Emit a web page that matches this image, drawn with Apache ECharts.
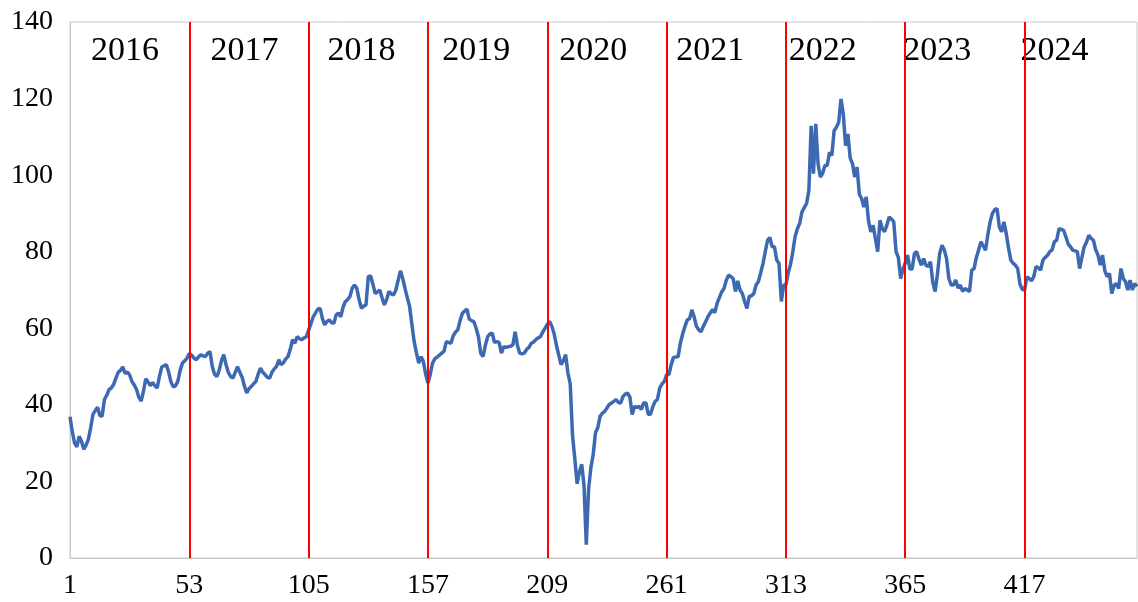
<!DOCTYPE html>
<html>
<head>
<meta charset="utf-8">
<script src="https://cdn.jsdelivr.net/npm/echarts@6/dist/echarts.min.js"></script>
<style>
  html, body { margin: 0; padding: 0; background: #fff; }
  #chart { width: 1138px; height: 602px; }
</style>
</head>
<body>
<div id="chart"></div>
<script>
// weekly values, one array per year (52 weeks each, 2024 partial)
const y2016 = [36.9, 33.0, 30.0, 29.0, 31.8, 30.5, 28.4, 29.5, 31.0, 34.0, 37.5, 38.5, 39.4, 37.2, 37.0, 41.4,
  42.5, 44.0, 44.4, 45.3, 47.0, 48.5, 49.0, 49.9, 48.2, 48.6, 47.8, 46.1, 45.2, 44.0, 42.0, 41.0,
  43.5, 46.8, 46.0, 45.0, 45.8, 45.0, 44.4, 47.5, 49.9, 50.2, 50.5, 48.5, 46.0, 44.7, 45.0, 46.2,
  49.0, 50.9, 51.5, 52.2];
const y2017 = [53.4, 53.0, 52.2, 51.8, 52.5, 53.1, 52.8, 52.6, 53.5, 53.9, 50.0, 48.0, 47.4, 49.0, 51.5, 53.1,
  50.5, 48.5, 47.4, 47.0, 48.5, 50.0, 48.5, 47.2, 45.0, 43.1, 44.2, 44.8, 45.5, 46.1, 48.0, 49.6,
  48.5, 47.9, 47.2, 47.0, 48.5, 49.4, 50.0, 51.8, 50.5, 51.0, 52.0, 52.6, 54.5, 57.0, 56.1, 57.8,
  57.3, 57.0, 57.5, 57.8];
const y2018 = [59.5, 61.2, 63.0, 64.0, 65.0, 65.2, 62.5, 60.9, 61.8, 62.2, 61.5, 61.3, 63.5, 64.0, 63.0, 65.5,
  67.0, 67.5, 68.3, 70.5, 71.3, 70.4, 67.5, 65.2, 65.8, 66.1, 73.5, 73.7, 71.5, 69.1, 69.5, 70.0,
  68.0, 66.1, 67.5, 69.6, 69.0, 68.7, 70.0, 72.5, 75.0, 73.0, 70.4, 68.0, 65.7, 61.0, 56.5, 53.5,
  50.9, 52.6, 51.3, 48.0];
const y2019 = [45.7, 48.0, 50.9, 52.0, 52.5, 53.0, 53.5, 54.0, 56.5, 56.3, 56.1, 58.0, 59.0, 59.6, 62.0, 63.9,
  64.5, 65.0, 62.4, 62.0, 61.7, 60.0, 57.8, 53.5, 52.6, 55.5, 57.8, 58.5, 58.7, 56.3, 56.5, 56.3,
  53.5, 55.2, 55.0, 55.2, 55.3, 55.7, 59.1, 55.5, 53.5, 53.3, 53.5, 54.5, 55.0, 56.1, 56.4, 57.0,
  57.5, 57.8, 59.0, 60.0];
const y2020 = [61.0, 61.8, 60.5, 58.5, 55.5, 53.0, 50.5, 51.5, 53.1, 48.3, 45.5, 32.0, 25.9, 19.4, 22.4, 24.5,
  19.0, 3.5, 18.0, 23.6, 27.0, 32.7, 34.0, 37.0, 37.8, 38.3, 39.2, 40.1, 40.5, 40.9, 41.4, 40.6,
  40.5, 42.2, 42.8, 43.1, 42.0, 37.5, 39.6, 39.3, 39.6, 38.8, 40.5, 40.5, 37.5, 37.6, 39.5, 40.9,
  41.4, 44.4, 45.5, 46.1];
const y2021 = [47.9, 47.9, 50.5, 52.4, 52.5, 52.6, 56.1, 58.5, 60.5, 62.2, 62.5, 64.8, 63.0, 60.5, 59.6, 59.1,
  60.5, 61.7, 63.0, 64.0, 64.9, 64.1, 66.5, 68.0, 69.5, 70.4, 72.5, 73.9, 73.5, 73.0, 69.6, 72.4,
  70.0, 69.1, 67.0, 65.2, 68.3, 68.5, 69.1, 71.3, 72.2, 74.5, 76.9, 80.0, 83.0, 83.7, 81.3, 81.3,
  77.8, 76.9, 67.0, 71.3];
const y2022 = [71.3, 74.5, 76.7, 80.0, 84.0, 86.0, 87.4, 90.4, 91.5, 92.6, 96.0, 112.9, 100.4, 113.4, 103.0, 99.5,
  100.5, 102.5, 102.5, 106.0, 105.1, 111.6, 112.5, 113.8, 119.9, 116.0, 107.7, 110.8, 104.5, 103.0, 99.5, 102.1,
  95.0, 93.9, 91.7, 94.3, 88.0, 85.2, 86.9, 83.4, 80.0, 88.2, 86.0, 85.2, 87.0, 89.1, 88.5, 87.8,
  80.0, 78.5, 73.0, 75.5];
const y2023 = [77.0, 79.1, 75.5, 75.5, 79.5, 80.0, 78.0, 76.5, 78.2, 76.5, 76.1, 77.4, 72.0, 69.6, 74.0, 79.5,
  81.7, 80.5, 78.2, 73.0, 71.3, 71.3, 72.6, 70.5, 71.3, 69.6, 70.4, 70.0, 69.6, 75.2, 75.6, 78.5,
  80.5, 82.6, 81.5, 80.4, 84.5, 87.8, 90.0, 91.0, 91.3, 86.5, 85.2, 87.8, 84.8, 81.0, 77.8, 77.0,
  76.5, 75.6, 71.5, 70.2];
const y2024 = [70.0, 73.4, 73.0, 72.4, 73.5, 76.1, 75.8, 75.2, 77.8, 78.5, 79.1, 80.0, 80.5, 82.6, 83.0, 86.0,
  85.8, 85.6, 83.9, 82.0, 81.3, 80.4, 80.2, 80.0, 75.6, 78.5, 81.3, 82.5, 84.3, 83.5, 83.0, 80.5,
  79.1, 76.5, 79.1, 75.0, 73.5, 74.3, 69.1, 71.2, 71.7, 70.4, 75.6, 73.0, 72.2, 70.0, 72.6, 70.0,
  71.7, 70.9];

const values = [].concat(y2016, y2017, y2018, y2019, y2020, y2021, y2022, y2023, y2024);
const weeks = values.map((v, i) => String(i + 1));

// red separators at the first week of each year
const yearStarts = ['53', '105', '157', '209', '261', '313', '365', '417'];
// year captions and the week they sit over
const yearNames = ['2016', '2017', '2018', '2019', '2020', '2021', '2022', '2023', '2024'];
const yearLabelWeek = ['25', '77', '128', '178', '229', '280', '329', '379', '430'];

const serif = '"Liberation Serif", "DejaVu Serif", serif';

const chart = echarts.init(document.getElementById('chart'));

chart.setOption({
  animation: false,
  grid: {
    left: 70, right: 1, top: 22, bottom: 44,
    show: true, borderColor: '#c8c8c8', borderWidth: 1
  },
  xAxis: {
    type: 'category',
    data: weeks,
    boundaryGap: false,
    axisLine: { lineStyle: { color: '#c8c8c8', width: 1 } },
    axisTick: { show: false },
    axisLabel: {
      interval: 51,
      color: '#000',
      fontFamily: serif,
      fontSize: 28,
      margin: 14
    },
    splitLine: { show: false }
  },
  yAxis: {
    type: 'value',
    min: 0, max: 140, interval: 20,
    axisLine: { show: true, lineStyle: { color: '#c8c8c8', width: 1 } },
    axisTick: { show: false },
    axisLabel: { color: '#000', fontFamily: serif, fontSize: 28, margin: 17 },
    splitLine: { show: false }
  },
  series: [
    {
      type: 'line',
      data: values,
      symbol: 'none',
      lineStyle: { color: '#3c69b2', width: 3.5 },
      z: 3,
      markLine: {
        silent: true,
        symbol: ['none', 'none'],
        label: { show: false },
        lineStyle: { color: '#ff0000', width: 2, type: 'solid' },
        data: yearStarts.map(w => ({ xAxis: w }))
      }
    },
    {
      type: 'scatter',
      symbolSize: 0,
      silent: true,
      itemStyle: { opacity: 1 },
      data: yearNames.map((n, i) => ({ name: n, value: [yearLabelWeek[i], 132.3] })),
      label: {
        show: true,
        position: 'inside',
        formatter: '{b}',
        color: '#000',
        textBorderWidth: 0,
        fontFamily: serif,
        fontSize: 34
      }
    }
  ]
});
</script>
</body>
</html>
